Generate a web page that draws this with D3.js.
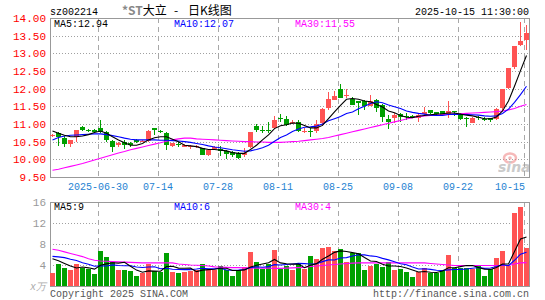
<!DOCTYPE html>
<html>
<head>
<meta charset="utf-8">
<script src="https://d3js.org/d3.v7.min.js"></script>
<style>
  body { margin: 0; background: #fff; }
  text { font-family: "Liberation Mono", "DejaVu Sans Mono", monospace; font-size: 10px; }
</style>
</head>
<body>
<script>
// trading days shown, 2025-06-18 .. 2025-10-15
var dates = [
  "06-18","06-19","06-20","06-23","06-24","06-25","06-26","06-27","06-30",
  "07-01","07-02","07-03","07-04","07-07","07-08","07-09","07-10","07-11",
  "07-14","07-15","07-16","07-17","07-18","07-21","07-22","07-23","07-24","07-25",
  "07-28","07-29","07-30","07-31","08-01","08-04","08-05","08-06","08-07","08-08",
  "08-11","08-12","08-13","08-14","08-15","08-18","08-19","08-20","08-21","08-22",
  "08-25","08-26","08-27","08-28","08-29","09-01","09-02","09-03","09-04","09-05",
  "09-08","09-09","09-10","09-11","09-12","09-15","09-16","09-17","09-18","09-19",
  "09-22","09-23","09-24","09-25","09-26","09-29","09-30",
  "10-09","10-10","10-13","10-14","10-15"
];

var open = [10.65,10.74,10.61,10.43,10.64,10.91,10.82,10.83,10.88,10.76,
  10.52,10.40,10.50,10.45,10.55,10.50,10.52,10.88,10.80,10.74,
  10.38,10.43,10.36,10.36,10.34,10.31,10.12,10.28,10.28,10.24,
  10.21,10.18,10.12,10.35,10.93,10.84,10.83,10.88,11.18,11.14,
  11.02,11.07,10.79,10.81,10.79,11.02,11.45,11.69,12.00,11.80,
  11.71,11.64,11.64,11.52,11.69,11.55,11.14,11.17,11.29,11.22,
  11.23,11.17,11.29,11.40,11.33,11.36,11.29,11.36,11.26,11.18,
  11.04,11.19,11.15,11.17,11.14,11.44,12.02,12.60,13.23,13.38];
var close = [10.68,10.62,10.43,10.55,10.83,10.83,10.80,10.77,10.76,10.55,
  10.34,10.46,10.40,10.40,10.48,10.52,10.81,10.83,10.78,10.40,
  10.45,10.41,10.40,10.38,10.38,10.12,10.26,10.36,10.24,10.15,
  10.11,10.05,10.18,10.76,10.83,10.82,10.81,11.12,11.16,10.98,
  11.07,10.79,10.81,10.79,11.00,11.42,11.71,11.79,11.74,11.83,
  11.55,11.60,11.52,11.64,11.45,11.21,11.05,11.26,11.21,11.20,
  11.19,11.26,11.34,11.31,11.29,11.26,11.36,11.33,11.14,11.16,
  11.17,11.17,11.13,11.12,11.42,11.99,12.59,13.22,13.35,13.58];
var high = [10.72,10.76,10.67,10.56,10.84,10.93,10.86,10.86,11.12,10.79,
  10.55,10.48,10.55,10.48,10.58,10.55,10.83,10.90,10.84,10.76,
  10.47,10.48,10.42,10.40,10.40,10.33,10.27,10.38,10.38,10.26,
  10.23,10.20,10.33,10.78,11.00,10.95,11.07,11.24,11.28,11.23,
  11.10,11.10,10.88,10.88,11.12,11.45,11.90,11.93,12.12,11.98,
  11.76,11.66,11.69,11.83,11.72,11.57,11.26,11.31,11.31,11.30,
  11.26,11.31,11.48,11.41,11.35,11.38,11.64,11.38,11.30,11.21,
  11.19,11.22,11.19,11.18,11.45,11.99,12.59,13.22,13.88,13.80];
var low = [10.62,10.38,10.34,10.36,10.50,10.80,10.76,10.74,10.74,10.50,
  10.21,10.36,10.28,10.36,10.45,10.48,10.48,10.69,10.75,10.26,
  10.36,10.36,10.34,10.29,10.32,10.12,10.10,10.26,10.09,10.02,
  10.07,10.00,10.08,10.33,10.76,10.74,10.74,10.86,11.07,10.93,
  11.00,10.76,10.74,10.62,10.74,10.95,11.40,11.69,11.74,11.74,
  11.55,11.26,11.40,11.50,11.33,11.07,10.86,11.02,11.07,11.12,
  11.17,11.07,11.26,11.29,11.26,11.24,11.17,11.24,11.10,10.91,
  11.02,11.12,11.09,11.05,11.10,11.40,12.00,12.55,13.22,13.10];

var ma5 = [10.80,10.74,10.68,10.64,10.64,10.66,10.70,10.76,10.80,10.74,
  10.64,10.55,10.47,10.40,10.40,10.45,10.55,10.61,10.64,10.64,
  10.57,10.50,10.40,10.38,10.36,10.31,10.28,10.28,10.26,10.24,
  10.19,10.17,10.17,10.28,10.40,10.55,10.69,10.87,10.95,10.98,
  11.03,11.02,10.96,10.89,10.89,10.96,11.15,11.34,11.53,11.70,
  11.72,11.70,11.65,11.63,11.55,11.48,11.37,11.32,11.24,11.19,
  11.18,11.22,11.24,11.26,11.28,11.29,11.31,11.31,11.28,11.25,
  11.23,11.19,11.15,11.15,11.20,11.37,11.65,12.07,12.51,12.94];
var ma10 = [10.55,10.62,10.66,10.68,10.69,10.70,10.71,10.72,10.72,10.70,
  10.67,10.64,10.60,10.57,10.55,10.55,10.55,10.55,10.54,10.54,
  10.53,10.52,10.50,10.48,10.45,10.42,10.38,10.35,10.33,10.30,
  10.27,10.25,10.23,10.24,10.28,10.33,10.40,10.51,10.62,10.69,
  10.79,10.86,10.91,10.92,10.94,11.00,11.09,11.15,11.21,11.30,
  11.34,11.43,11.50,11.58,11.63,11.60,11.54,11.49,11.44,11.37,
  11.33,11.30,11.28,11.25,11.24,11.24,11.27,11.28,11.27,11.27,
  11.26,11.25,11.23,11.22,11.23,11.30,11.42,11.61,11.83,12.07];
var ma30 = [9.69,9.72,9.76,9.80,9.84,9.88,9.93,9.98,10.03,10.08,
  10.13,10.18,10.22,10.27,10.31,10.35,10.39,10.43,10.47,10.51,
  10.55,10.58,10.60,10.60,10.58,10.57,10.56,10.55,10.54,10.53,
  10.52,10.51,10.50,10.50,10.49,10.49,10.48,10.48,10.48,10.49,
  10.50,10.51,10.53,10.55,10.57,10.59,10.62,10.66,10.70,10.74,
  10.78,10.82,10.86,10.90,10.94,10.98,11.02,11.06,11.10,11.14,
  11.18,11.21,11.23,11.24,11.25,11.26,11.27,11.28,11.29,11.30,
  11.31,11.32,11.33,11.34,11.35,11.37,11.40,11.44,11.50,11.55];

// volume, 万手
var volume = [2.48,4.1,3.4,3.0,4.1,3.5,3.3,2.2,6.6,5.5,
  4.5,3.0,3.0,2.8,1.85,2.5,4.25,2.8,2.7,6.3,
  2.7,2.5,2.7,2.8,3.0,4.1,3.0,3.0,3.75,3.0,
  2.0,3.0,3.6,6.5,4.6,3.3,4.1,6.8,3.2,3.75,
  3.0,4.25,3.2,5.65,5.2,7.2,7.4,6.6,7.0,4.6,
  6.2,6.3,3.0,3.75,4.1,3.6,4.6,3.0,3.2,2.7,
  1.7,2.7,3.5,2.5,2.5,3.1,5.85,3.5,3.5,3.5,
  3.2,3.9,2.0,3.2,5.3,6.6,3.9,13.9,15.0,7.2];
var vma5 = [5.2,4.8,4.3,3.8,3.42,3.62,3.46,3.22,3.94,4.22,
  4.42,4.36,4.52,3.76,3.03,2.63,2.88,2.84,2.82,3.71,
  3.75,3.4,3.38,3.4,2.74,3.02,3.12,3.18,3.37,3.37,
  2.95,2.95,3.07,3.62,3.94,4.2,4.42,5.06,4.4,4.23,
  4.17,4.2,3.48,3.97,4.26,5.1,5.73,6.41,6.68,6.56,
  6.36,6.14,5.42,4.77,4.67,4.15,3.81,3.81,3.7,3.42,
  3.04,2.66,2.76,2.62,2.58,2.86,3.49,3.49,3.69,3.89,
  3.91,3.52,3.22,3.16,3.52,4.2,4.2,6.58,8.94,9.32];
var vma10 = [5.65,5.55,5.4,5.1,4.85,4.41,4.13,3.76,3.87,3.82,
  4.02,3.91,3.87,3.85,3.63,3.53,3.62,3.68,3.29,3.37,
  3.19,3.14,3.11,3.11,3.23,3.39,3.26,3.28,3.39,3.06,
  2.99,3.04,3.13,3.5,3.66,3.58,3.69,4.07,4.01,4.09,
  4.19,4.31,4.27,4.19,4.25,4.64,4.97,4.95,5.33,5.41,
  5.73,5.94,5.92,5.73,5.62,5.26,4.98,4.62,4.24,4.05,
  3.6,3.24,3.29,3.16,3.0,2.95,3.08,3.13,3.16,3.24,
  3.39,3.51,3.36,3.43,3.71,4.06,3.86,4.9,6.05,6.42];
var vma30 = [7.0,6.8,6.5,6.2,5.9,5.6,5.2,4.9,4.75,4.7,
  4.65,4.6,4.55,4.5,4.45,4.4,4.4,4.4,4.4,4.4,
  4.4,4.2,4.1,4.0,3.95,3.9,3.8,3.65,3.6,3.55,
  3.5,3.5,3.45,3.45,3.4,3.4,3.4,3.35,3.35,3.4,
  3.45,3.5,3.55,3.7,3.8,3.9,4.0,4.1,4.2,4.3,
  4.35,4.4,4.4,4.4,4.4,4.4,4.4,4.4,4.4,4.4,
  4.4,4.4,4.4,4.3,4.2,4.1,4.0,3.9,3.9,3.9,
  3.9,3.9,3.9,3.9,3.9,3.9,3.9,4.2,4.4,4.45];

var priceTicks = [9.5,10,10.5,11,11.5,12,12.5,13,13.5,14];
var volTicks = [4,8,12,16];
var tickDates = ["06-30","07-14","07-28","08-11","08-25","09-08","09-22","10-15"];
var tickLabels = ["2025-06-30","07-14","07-28","08-11","08-25","09-08","09-22","10-15"];

var RED = "#ff5353", GREEN = "#00a000";

var svg = d3.select("body").append("svg")
  .attr("width", 545).attr("height", 300);

var x = d3.scaleBand().domain(dates).range([50, 530]);
var y = d3.scaleLinear().domain([9.5, 14]).range([177, 18]);
var yv = d3.scaleLinear().domain([0, 16]).range([286, 202]);

// grid lines
var grid = svg.append("g").attr("shape-rendering", "crispEdges");
grid.selectAll(".hp").data(priceTicks.slice(1, -1)).enter().append("line")
  .attr("x1", 50).attr("x2", 529)
  .attr("y1", function (d) { return Math.round(y(d)) + 0.5; })
  .attr("y2", function (d) { return Math.round(y(d)) + 0.5; })
  .attr("stroke", "#a0a0a0").attr("stroke-dasharray", "1,2");
grid.selectAll(".hv").data(volTicks.slice(0, -1)).enter().append("line")
  .attr("x1", 50).attr("x2", 529)
  .attr("y1", function (d) { return Math.round(yv(d)) + 0.5; })
  .attr("y2", function (d) { return Math.round(yv(d)) + 0.5; })
  .attr("stroke", "#a0a0a0").attr("stroke-dasharray", "1,2");
[[18, 177], [202, 286]].forEach(function (r) {
  grid.selectAll(null).data(tickDates).enter().append("line")
    .attr("x1", function (d) { return x(d) + 0.5; })
    .attr("x2", function (d) { return x(d) + 0.5; })
    .attr("y1", r[0]).attr("y2", r[1])
    .attr("stroke", "#a8a8a8").attr("stroke-dasharray", "5,4");
});

// sina watermark
var logo = svg.append("g").attr("opacity", 0.55);
logo.append("ellipse").attr("cx", 510).attr("cy", 158).attr("rx", 6).attr("ry", 4.5)
  .attr("fill", "none").attr("stroke", "#f08080").attr("stroke-width", 2.5);
logo.append("circle").attr("cx", 510).attr("cy", 158).attr("r", 1.8).attr("fill", "#f08080");
logo.append("text").attr("x", 498).attr("y", 172)
  .style("font-family", "DejaVu Sans").style("font-size", "14px")
  .style("font-weight", "bold").style("font-style", "italic")
  .attr("fill", "#a0a0a0").text("sina");

// frames
svg.append("rect").attr("x", 50.5).attr("y", 18.5).attr("width", 479).attr("height", 159)
  .attr("fill", "none").attr("stroke", "#999").attr("shape-rendering", "crispEdges");
svg.append("rect").attr("x", 50.5).attr("y", 202.5).attr("width", 479).attr("height", 84)
  .attr("fill", "none").attr("stroke", "#999").attr("shape-rendering", "crispEdges");

// candles
var candles = svg.append("g").attr("shape-rendering", "crispEdges");
dates.forEach(function (d, i) {
  var col = close[i] >= open[i] ? RED : GREEN;
  var cx = x(d) + 2.5;
  candles.append("line")
    .attr("x1", cx).attr("x2", cx)
    .attr("y1", y(high[i])).attr("y2", y(low[i]))
    .attr("stroke", col);
  var top = y(Math.max(open[i], close[i])), bot = y(Math.min(open[i], close[i]));
  candles.append("rect")
    .attr("x", x(d)).attr("width", 5)
    .attr("y", top).attr("height", Math.max(1, bot - top))
    .attr("fill", col);
});

// volume bars
svg.append("g").attr("shape-rendering", "crispEdges")
  .selectAll("rect").data(dates).enter().append("rect")
  .attr("x", function (d) { return x(d); })
  .attr("width", 5)
  .attr("y", function (d, i) { return yv(volume[i]); })
  .attr("height", function (d, i) { return yv(0) - yv(volume[i]); })
  .attr("fill", function (d, i) { return close[i] >= open[i] ? RED : GREEN; });

// moving averages
function drawLine(vals, scale, color) {
  var line = d3.line()
    .x(function (v, i) { return x(dates[i]) + 2.5; })
    .y(function (v) { return scale(v); });
  svg.append("path").datum(vals).attr("d", line)
    .attr("fill", "none").attr("stroke", color).attr("stroke-width", 1.1);
}
drawLine(ma30, y, "#ff00ff");
drawLine(ma10, y, "#0000ff");
drawLine(ma5, y, "#000000");
drawLine(vma30, yv, "#ff00ff");
drawLine(vma10, yv, "#0000ff");
drawLine(vma5, yv, "#000000");

// axes
var yAxis = svg.append("g").attr("transform", "translate(50,0)")
  .call(d3.axisLeft(y).tickValues(priceTicks).tickSize(0).tickPadding(4)
    .tickFormat(d3.format(".2f")));
yAxis.select(".domain").remove();
yAxis.selectAll("text").attr("fill", "#ff0000")
  .style("font-family", "Liberation Mono").style("font-size", "11px");

var vAxis = svg.append("g").attr("transform", "translate(50,0)")
  .call(d3.axisLeft(yv).tickValues(volTicks).tickSize(0).tickPadding(4));
vAxis.select(".domain").remove();
vAxis.selectAll("text").attr("fill", "#999")
  .style("font-family", "Liberation Mono").style("font-size", "11px");

svg.append("text").attr("x", 46).attr("y", 290).attr("text-anchor", "end")
  .attr("fill", "#aaa").style("font-style", "italic").text("x万");

svg.selectAll(".xl").data(tickDates).enter().append("text")
  .attr("x", function (d, i) { return i === tickDates.length - 1 ? x(d) + 1 : x(d); })
  .attr("y", 190)
  .attr("text-anchor", function (d, i) { return i === tickDates.length - 1 ? "end" : "middle"; })
  .attr("fill", "#1e82d2")
  .text(function (d, i) { return tickLabels[i]; });

// titles and legends
svg.append("text").attr("x", 50).attr("y", 15).attr("fill", "#000").text("sz002214");
var cjk = "'Noto Sans CJK SC', sans-serif";
var t = svg.append("text").attr("x", 122).attr("y", 15)
  .style("font-family", cjk).style("font-size", "12px");
t.append("tspan").attr("fill", "#888").style("font-weight", "bold").text("*ST");
t.append("tspan").attr("fill", "#000").text("大立");
svg.append("text").attr("x", 174).attr("y", 15).attr("fill", "#000")
  .style("font-family", cjk).style("font-size", "12px").text("-");
svg.append("text").attr("x", 188).attr("y", 15).attr("fill", "#000")
  .style("font-family", cjk).style("font-size", "12px").text("日K线图");
svg.append("text").attr("x", 529).attr("y", 15).attr("text-anchor", "end")
  .attr("fill", "#000").text("2025-10-15 11:30:00");

function legend(yPos, items) {
  items.forEach(function (it) {
    svg.append("text").attr("x", it[0]).attr("y", yPos).attr("fill", it[2]).text(it[1]);
  });
}
legend(27, [[54, "MA5:" + ma5[79].toFixed(2), "#000"],
            [174, "MA10:" + ma10[79].toFixed(2), "#0000ff"],
            [295, "MA30:" + ma30[79].toFixed(2), "#ff00ff"]]);
legend(210, [[54, "MA5:" + Math.floor(vma5[79]), "#000"],
             [174, "MA10:" + Math.floor(vma10[79]), "#0000ff"],
             [295, "MA30:" + Math.floor(vma30[79]), "#ff00ff"]]);

svg.append("text").attr("x", 50).attr("y", 297).attr("fill", "#555")
  .text("Copyright 2025 SINA.COM");
svg.append("text").attr("x", 529).attr("y", 297).attr("text-anchor", "end")
  .attr("fill", "#555").text("http://finance.sina.com.cn");
</script>
</body>
</html>
